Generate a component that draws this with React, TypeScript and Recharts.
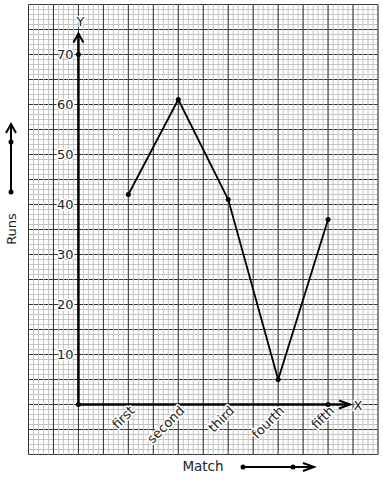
import React from "react";
import {
  LineChart,
  Line,
  XAxis,
  YAxis,
  ReferenceLine,
  ReferenceDot,
} from "recharts";

const matches = ["first", "second", "third", "fourth", "fifth"];
const matchPos = [1, 2, 3, 4, 5];
const runs = [42, 61, 41, 5, 37];
const yTicks = [10, 20, 30, 40, 50, 60, 70];
const axisDots = [
  { x: 0, y: 70 },
  { x: 0, y: 0 },
  { x: 5, y: 0 },
];

const X_DOMAIN: [number, number] = [-1, 6];
const Y_DOMAIN: [number, number] = [-10, 80];
const Y_TIP = 74.2;
const X_TIP = 5.44;

const data = matches.map((m, i) => ({ x: matchPos[i], runs: runs[i], match: m }));

// graph paper lines
const range = (a: number, b: number, step: number) => {
  const out: number[] = [];
  const n = Math.round((b - a) / step);
  for (let i = 0; i <= n; i++) out.push(Math.round((a + i * step) * 100) / 100);
  return out;
};
const minorX = range(-1, 6, 0.1);
const minorY = range(-10, 80, 1);
const majorX = range(-1, 6, 0.5);
const majorY = range(-10, 80, 5);

const MINOR = "#c4c4c4";
const MAJOR = "#333";

const FONT = "'DejaVu Sans', sans-serif";
const TEXT = "#222";

const halo = {
  stroke: "#fff",
  strokeWidth: 3,
  paintOrder: "stroke" as const,
  strokeLinejoin: "round" as const,
};

function YLabel({ cx, cy, value }: any) {
  return (
    <text x={cx - 5} y={cy} dy={4.5} textAnchor="end" fontSize={13} fill={TEXT} fontFamily={FONT} style={halo}>
      {value}
    </text>
  );
}

function XLabel({ cx, cy, value }: any) {
  const x = cx + 7;
  const y = cy + 7;
  return (
    <text x={x} y={y} textAnchor="end" fontSize={13} fill={TEXT} fontFamily={FONT}
      transform={`rotate(-45 ${x} ${y})`} style={halo}>
      {value}
    </text>
  );
}

function UpArrow({ cx, cy }: any) {
  return (
    <path d={`M${cx - 5},${cy + 9} L${cx},${cy} L${cx + 5},${cy + 9}`} fill="none" stroke="#000" strokeWidth={2} />
  );
}

function RightArrow({ cx, cy }: any) {
  return (
    <path d={`M${cx - 11},${cy - 4} L${cx},${cy} L${cx - 11},${cy + 4}`} fill="none" stroke="#000" strokeWidth={2} />
  );
}

function AxisName({ cx, cy, value }: any) {
  return (
    <text x={cx} y={cy} dy={5} textAnchor="middle" fontSize={13} fill={TEXT} fontFamily={FONT} style={halo}>
      {value}
    </text>
  );
}

export default function App() {
  return (
    <div style={{ position: "absolute", left: 0, top: 0, width: 383, height: 480, background: "#fff" }}>
      <LineChart
        width={383}
        height={480}
        data={data}
        margin={{ top: 4.5, right: 5, bottom: 25.5, left: 28.5 }}
      >
        <XAxis dataKey="x" type="number" domain={X_DOMAIN} hide />
        <YAxis type="number" domain={Y_DOMAIN} hide />

        {minorY.map((v) => (
          <ReferenceLine key={`my${v}`} y={v} stroke={MINOR} strokeWidth={1} />
        ))}
        {majorY.map((v) => (
          <ReferenceLine key={`My${v}`} y={v} stroke={MAJOR} strokeWidth={1} />
        ))}
        {minorX.map((v) => (
          <ReferenceLine key={`mx${v}`} x={v} stroke={MINOR} strokeWidth={1} />
        ))}
        {majorX.map((v) => (
          <ReferenceLine key={`Mx${v}`} x={v} stroke={MAJOR} strokeWidth={1} />
        ))}

        <ReferenceLine segment={[{ x: 0, y: 0 }, { x: 0, y: Y_TIP }]} stroke="#000" strokeWidth={2.5} />
        <ReferenceLine segment={[{ x: 0, y: 0 }, { x: X_TIP, y: 0 }]} stroke="#000" strokeWidth={2.5} />
        <ReferenceDot x={0} y={Y_TIP} shape={UpArrow} />
        <ReferenceDot x={X_TIP} y={0} shape={RightArrow} />

        {yTicks.map((t) => (
          <ReferenceDot key={`yt${t}`} x={0} y={t} shape={(p: any) => <YLabel {...p} value={t} />} />
        ))}
        {matches.map((m, i) => (
          <ReferenceDot key={`xt${m}`} x={matchPos[i]} y={0} shape={(p: any) => <XLabel {...p} value={m} />} />
        ))}
        <ReferenceDot x={0.04} y={76.8} shape={(p: any) => <AxisName {...p} value="Y" />} />
        <ReferenceDot x={5.6} y={0} shape={(p: any) => <AxisName {...p} value="X" />} />

        {axisDots.map((d, i) => (
          <ReferenceDot key={`ad${i}`} x={d.x} y={d.y} r={2.5} fill="#000" stroke="#000" strokeWidth={0} />
        ))}

        <Line
          dataKey="runs"
          stroke="#000"
          strokeWidth={1.8}
          dot={{ r: 2.5, fill: "#000", stroke: "#000", strokeWidth: 0 }}
          isAnimationActive={false}
        />
      </LineChart>

      <svg width={383} height={480} style={{ position: "absolute", left: 0, top: 0, pointerEvents: "none" }}>
        <text x={11} y={229} dy={4.5} textAnchor="middle" fontSize={13} fill={TEXT} fontFamily={FONT}
          transform="rotate(-90 11 229)">Runs</text>
        <line x1={11} y1={192} x2={11} y2={124} stroke="#000" strokeWidth={2} />
        <path d="M6,133 L11,124 L16,133" fill="none" stroke="#000" strokeWidth={2} />
        <circle cx={11} cy={142} r={2.5} fill="#000" />
        <circle cx={11} cy={192} r={2.5} fill="#000" />

        <text x={203} y={466} dy={4.5} textAnchor="middle" fontSize={13.5} fill={TEXT} fontFamily={FONT}>Match</text>
        <line x1={243} y1={467} x2={314} y2={467} stroke="#000" strokeWidth={2} />
        <path d="M303,463 L314,467 L303,471" fill="none" stroke="#000" strokeWidth={2} />
        <circle cx={243} cy={467} r={2.5} fill="#000" />
        <circle cx={293} cy={467} r={2.5} fill="#000" />
      </svg>
    </div>
  );
}
